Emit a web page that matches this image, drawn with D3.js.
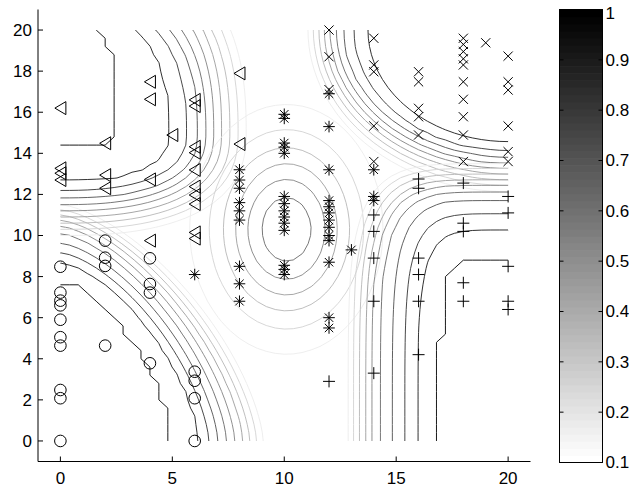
<!DOCTYPE html>
<html><head><meta charset="utf-8">
<script src="https://cdn.jsdelivr.net/npm/d3@7"></script>
<style>
body{margin:0;background:#fff}
svg{display:block}
text{font-family:"Liberation Sans",Arial,Helvetica,sans-serif;font-size:17px;fill:#000}
</style>
</head><body>
<svg id="chart" width="629" height="493"></svg>
<script>
// ---------------- data ----------------
const xTicks = [0, 5, 10, 15, 20];
const yTicks = [0, 2, 4, 6, 8, 10, 12, 14, 16, 18, 20];
const cbTicks = [0.1, 0.2, 0.3, 0.4, 0.5, 0.6, 0.7, 0.8, 0.9, 1];
const contourLevels = [0.1, 0.2, 0.3, 0.4, 0.5, 0.6, 0.7, 0.8, 0.9, 1];

// scatter points, per class
const circlePts = [[0,0],[0,2.08],[0,2.48],[0,4.64],[0,5.05],[0,5.9],[0,6.6],[0,6.83],[0,7.22],[0,8.48],
  [2,9.75],[2,8.92],[2,8.52],[2,4.64],[4,8.89],[4,7.64],[4,7.22],[4,3.78],[6,3.37],[6,2.93],[6,2.08],[6,0]];
const trianglePts = [[0,16.2],[0,13.27],[0,13.03],[0,12.7],[2,14.49],[2,12.94],[2,12.3],[4,17.48],[4,16.63],
  [4,12.73],[4,9.75],[5,14.89],[6,16.6],[6,16.3],[6,14.32],[6,14.03],[6,13.19],[6,12.38],[6,11.97],[6,11.53],
  [6,10.15],[6,9.85],[8,17.89],[8,14.45]];
const starPts = [[6,8.1],[8,13.2],[8,12.7],[8,12.3],[8,11.6],[8,11.2],[8,10.75],[8,8.5],[8,7.65],[8,6.8],
  [10,15.9],[10,15.7],[10,14.5],[10,14.3],[10,14.0],[10,11.9],[10,11.55],[10,11.2],[10,10.9],[10,10.6],[10,10.25],
  [10,8.55],[10,8.35],[10,8.1],[12,16.9],[12,15.3],[12,13.2],[12,11.7],[12,11.4],[12,11.1],[12,10.75],[12,10.4],
  [12,10.0],[12,9.75],[12,8.7],[12,6.0],[12,5.5],[13,9.3],[14,13.2],[14,11.9],[14,11.7]];
const crossPts = [[12,20.0],[12,18.7],[12,17.1],[14,19.6],[14,18.3],[14,17.97],[14,15.33],[14,13.6],
  [16,17.97],[16,17.48],[16,16.19],[16,15.78],[16,14.89],[18,19.6],[18,19.3],[18,18.95],[18,18.6],[18,18.3],
  [18,17.48],[18,16.63],[18,15.78],[18,14.89],[18,13.6],[19,19.38],[20,18.73],[20,17.48],[20,17.08],[20,15.33],
  [20,14.08],[20,13.6]];
const plusPts = [[12,2.9],[14,11.0],[14,10.2],[14,8.9],[14,6.8],[14,3.3],[16,12.75],[16,12.3],[16,8.9],[16,8.1],
  [16,6.8],[16,4.2],[18,12.55],[18,10.6],[18,10.2],[18,7.7],[18,6.8],[20,11.9],[20,11.1],[20,8.5],[20,6.8],[20,6.4]];

// contour level curves (edge intercepts per level)
const circleLevels   = [1.0, 0.9, 0.8, 0.7, 0.6, 0.5, 0.4, 0.3, 0.2, 0.1];
const circleBottomX  = [5.19, 6.23, 6.63, 7.04, 7.42, 7.79, 8.16, 8.46, 8.76, 9.06];
const circleLeftY    = [7.97, 8.70, 9.16, 9.62, 10.10, 10.45, 10.75, 11.00, 11.25, 11.50];

const triLevels = [1.0, 0.9, 0.8, 0.7, 0.6, 0.5, 0.4, 0.3, 0.2, 0.1];
const triTopX   = [1.94, 3.40, 4.29, 4.89, 5.41, 5.93, 6.38, 6.75, 7.20, 7.60];
const triMaxX   = [2.80, 4.90, 5.65, 6.15, 6.50, 6.85, 7.20, 7.57, 7.94, 8.30];
const triLeftY  = [14.2, 12.57, 12.2, 11.8, 11.5, 11.2, 10.9, 10.6, 10.3, 10.0];

const plusLevels  = [1.0, 0.9, 0.8, 0.7, 0.6, 0.5, 0.4, 0.3, 0.2, 0.1];
const plusBottomX = [16.77, 15.97, 15.38, 14.83, 14.26, 13.89, 13.64, 13.37, 13.07, 12.85];
const plusRightY  = [9.16, 10.30, 11.07, 11.75, 12.13, 12.45, 12.70, 13.00, 13.27, 13.50];

const crossLevels = [0.9, 0.8, 0.7, 0.6, 0.5, 0.4, 0.3, 0.2, 0.1];
const crossTopX   = [13.74, 13.10, 12.62, 12.33, 12.03, 11.80, 11.55, 11.29, 11.06];
const crossRightY = [14.57, 14.08, 13.84, 13.50, 13.27, 13.00, 12.70, 12.45, 12.13];

const starCenter = [10.1, 10.3];
const starSpread = [2.2, 3.1];
const starPeak = 0.68;

// ---------------- layout ----------------
const svg = d3.select("#chart");
const x = d3.scaleLinear([-1, 21], [38, 530.5]);
const y = d3.scaleLinear([-1, 21], [461.5, 9.5]);

// ---------------- fields ----------------
const STEP = 0.4, N = 51;

function makeTableField(cfg) {
  const n = cfg.levels.length;
  const interp = (arr, s) => {
    if (s <= 0) return arr[0] + s * (arr[1] - arr[0]);
    if (s >= n - 1) return arr[n - 1] + (s - (n - 1)) * (arr[n - 1] - arr[n - 2]);
    const i = Math.floor(s), f = s - i;
    return arr[i] * (1 - f) + arr[i + 1] * f;
  };
  return (px, py) => {
    const dx = Math.abs(px - cfg.cx), dy = py - cfg.cy;
    const vert = dy >= 0 ? cfg.axUp : cfg.axDown;
    const g = s => Math.pow(dx / interp(cfg.axX, s), cfg.p) + Math.pow(Math.abs(dy) / interp(vert, s), cfg.p);
    const sMin = cfg.sMin, sMax = n + 2;
    if (g(sMin) <= 1) return interp(cfg.levels, sMin);
    if (g(sMax) > 1) return interp(cfg.levels, sMax);
    let lo = sMin, hi = sMax;
    for (let k = 0; k < 40; k++) {
      const mid = (lo + hi) / 2;
      if (g(mid) > 1) lo = mid; else hi = mid;
    }
    return interp(cfg.levels, (lo + hi) / 2);
  };
}

const circleField = makeTableField({cx: 0, cy: 0, p: 1.5, levels: circleLevels, sMin: 0,
  axX: circleBottomX, axUp: circleLeftY, axDown: circleLeftY});

const triP = 2.5;
const triUp = triTopX.map((t, i) => 5 / Math.pow(1 - Math.pow(t / triMaxX[i], triP), 1 / triP));
const triField = makeTableField({cx: 0, cy: 15, p: triP, levels: triLevels, sMin: 0,
  axX: triMaxX, axUp: triUp, axDown: triLeftY.map(v => 15 - v)});

const plusField = makeTableField({cx: 20, cy: 0, p: 5, levels: plusLevels, sMin: 0,
  axX: plusBottomX.map(v => 20 - v), axUp: plusRightY, axDown: plusRightY});

const crossField = makeTableField({cx: 20, cy: 20, p: 2, levels: crossLevels, sMin: -0.8,
  axX: crossTopX.map(v => 20 - v), axUp: crossRightY.map(v => 20 - v), axDown: crossRightY.map(v => 20 - v)});

const starField = (px, py) => {
  const a = (px - starCenter[0]) / starSpread[0], b = (py - starCenter[1]) / starSpread[1];
  return starPeak * Math.exp(-0.5 * (a * a + b * b));
};

function sample(f) {
  const vals = new Float64Array(N * N);
  for (let j = 0; j < N; j++) for (let i = 0; i < N; i++) vals[j * N + i] = f(i * STEP, j * STEP);
  return vals;
}

const contourGen = d3.contours().size([N, N]).thresholds(contourLevels);
const path = d3.geoPath(d3.geoTransform({
  point(cx, cy) { this.stream.point(x((cx - 0.5) * STEP), y((cy - 0.5) * STEP)); }
}));

function lineColor(L) {
  const t = (L - 0.1) / 0.9;
  const g = Math.round(236 * (1 - t));
  return `rgb(${g},${g},${g})`;
}

svg.append("defs").append("clipPath").attr("id", "dom")
  .append("rect").attr("x", x(0)).attr("y", y(20)).attr("width", x(20) - x(0)).attr("height", y(0) - y(20));

const cg = svg.append("g").attr("clip-path", "url(#dom)");
[circleField, triField, starField, crossField, plusField].forEach(f => {
  const vals = sample(f);
  contourGen(vals).forEach(c => {
    if (!c.coordinates.length) return;
    cg.append("path").attr("d", path(c)).attr("fill", "none")
      .attr("stroke", lineColor(c.value)).attr("stroke-width", 0.9);
  });
});

// ---------------- axes ----------------
const ax = svg.append("g").attr("stroke", "#000").attr("stroke-width", 1);
ax.append("line").attr("x1", 38).attr("x2", 530.5).attr("y1", 461.5).attr("y2", 461.5);
ax.append("line").attr("x1", 38).attr("x2", 38).attr("y1", 9.5).attr("y2", 461.5);
xTicks.forEach(t => {
  ax.append("line").attr("x1", x(t)).attr("x2", x(t)).attr("y1", 461.5).attr("y2", 456.5);
  svg.append("text").attr("x", x(t)).attr("y", 484).attr("text-anchor", "middle").text(t);
});
yTicks.forEach(t => {
  ax.append("line").attr("x1", 38).attr("x2", 43).attr("y1", y(t)).attr("y2", y(t));
  svg.append("text").attr("x", 32).attr("y", y(t)).attr("dy", "0.35em").attr("text-anchor", "end").text(t);
});

// ---------------- markers ----------------
const mk = svg.append("g").attr("fill", "none").attr("stroke", "#000").attr("stroke-width", 1);
circlePts.forEach(([a, b]) => mk.append("circle").attr("cx", x(a)).attr("cy", y(b)).attr("r", 5.8));
trianglePts.forEach(([a, b]) => {
  const X = x(a), Y = y(b);
  mk.append("path").attr("d", `M${X + 5.5},${Y - 6.5}L${X - 5.5},${Y}L${X + 5.5},${Y + 6.5}Z`);
});
starPts.forEach(([a, b]) => {
  const X = x(a), Y = y(b), r = 5.8, d = 4.2;
  mk.append("path").attr("d", `M${X - r},${Y}H${X + r}M${X},${Y - r}V${Y + r}M${X - d},${Y - d}L${X + d},${Y + d}M${X - d},${Y + d}L${X + d},${Y - d}`);
});
crossPts.forEach(([a, b]) => {
  const X = x(a), Y = y(b), d = 4.6;
  mk.append("path").attr("d", `M${X - d},${Y - d}L${X + d},${Y + d}M${X - d},${Y + d}L${X + d},${Y - d}`);
});
plusPts.forEach(([a, b]) => {
  const X = x(a), Y = y(b), r = 6;
  mk.append("path").attr("d", `M${X - r},${Y}H${X + r}M${X},${Y - r}V${Y + r}`);
});

// ---------------- colorbar ----------------
const cb = d3.scaleLinear([0.1, 1], [462.5, 9.5]);
const cbX = 559.5, cbW = 43;
const cbg = svg.append("g");
const nBands = 64;
d3.range(nBands).forEach(k => {
  const v0 = 0.1 + 0.9 * k / nBands, v1 = 0.1 + 0.9 * (k + 1) / nBands;
  const g = Math.round(255 * (1 - k / (nBands - 1)));
  cbg.append("rect").attr("x", cbX).attr("y", cb(v1)).attr("width", cbW).attr("height", cb(v0) - cb(v1) + 0.6)
    .attr("fill", `rgb(${g},${g},${g})`);
});
cbg.append("rect").attr("x", cbX).attr("y", cb(1)).attr("width", cbW).attr("height", cb(0.1) - cb(1))
  .attr("fill", "none").attr("stroke", "#000");
cbTicks.forEach(t => {
  cbg.append("line").attr("x1", cbX).attr("x2", cbX + 4).attr("y1", cb(t)).attr("y2", cb(t)).attr("stroke", "#000");
  cbg.append("line").attr("x1", cbX + cbW - 4).attr("x2", cbX + cbW).attr("y1", cb(t)).attr("y2", cb(t)).attr("stroke", "#000");
  cbg.append("text").attr("x", cbX + cbW + 3).attr("y", t === 1 ? cb(t) + 3.5 : cb(t)).attr("dy", "0.35em")
    .text(t === 1 ? "1" : t.toFixed(1));
});
</script>
</body></html>
